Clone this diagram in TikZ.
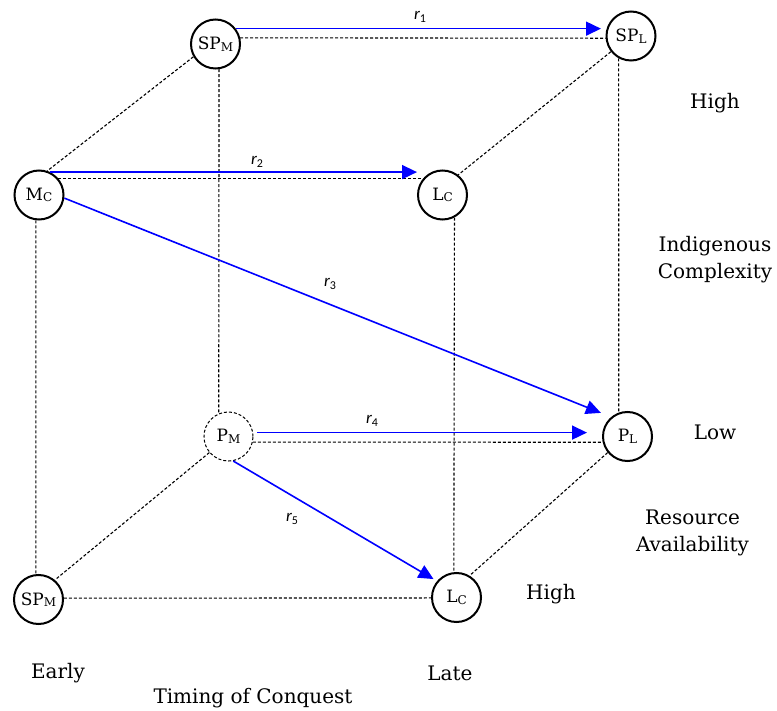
\documentclass[tikz,border=0pt]{standalone}
\usepackage{fontspec}
\setmainfont{DejaVu Serif}
\newfontfamily\labfont{Carlito}
\usetikzlibrary{arrows.meta}
\newcommand{\sbm}[1]{\raisebox{-1.5pt}{\fontsize{12}{12}\selectfont #1}}
\newcommand{\rl}[1]{{\labfont\fontsize{17}{17}\selectfont\itshape r\raisebox{-3pt}{\upshape\fontsize{12}{12}\selectfont #1}}}
\begin{document}
\begin{tikzpicture}[x=1pt,y=-1pt,
  vtx/.style={circle,draw,line width=2pt,minimum size=49pt,inner sep=0pt,font=\fontsize{17}{17}\selectfont},
  dvtx/.style={circle,draw,line width=1pt,dash pattern=on 3pt off 2pt,minimum size=49pt,inner sep=0pt,font=\fontsize{17}{17}\selectfont},
  cubeedge/.style={draw=black,line width=1.1pt,dash pattern=on 3pt off 2pt},
  rel/.style={draw=blue,line width=1.6pt,-{Triangle[length=15pt,width=14pt,fill=blue]}},
  lab/.style={font=\fontsize{20}{27}\selectfont,align=center},
]
\useasboundingbox (0,0) rectangle (777,711);

\node[vtx] (spmt) at (215.5,44) {SP\sbm{M}};
\node[vtx] (spl) at (631,36) {SP\sbm{L}};
\node[vtx] (mc) at (39,195) {M\sbm{C}};
\node[vtx] (lct) at (442.5,195) {L\sbm{C}};
\node[dvtx] (pm) at (228.5,436.5) {P\sbm{M}};
\node[vtx] (pl) at (627.5,436.5) {P\sbm{L}};
\node[vtx] (spmb) at (38.5,599.5) {SP\sbm{M}};
\node[vtx] (lcb) at (456.5,597.5) {L\sbm{C}};

% cube edges
\draw[cubeedge] (spmt.14) -- (spl.185);
\draw[cubeedge] (spmt.-82) -- (pm.113);
\draw[cubeedge] (spmt.210) -- (mc.71);
\draw[cubeedge] (spl.218) -- (lct.52);
\draw[cubeedge] (spl.241) -- (pl.110);
\draw[cubeedge] (mc.41) -- (lct.139);
\draw[cubeedge] (mc.263) -- (spmb.96);
\draw[cubeedge] (lct.-62) -- (lcb.96);
\draw[cubeedge] (pm.-13) -- (pl.193);
\draw[cubeedge] (pm.220) -- (spmb.50);
\draw[cubeedge] (pl.219) -- (lcb.59);
\draw[cubeedge] (spmb.3) -- (lcb.181);

% relations
\draw[rel] (spmt.37.4) -- ([xshift=-4.5pt]spmt.37.4 -| spl.west);
\draw[rel] (mc.64) -- (mc.64 -| lct.west);
\draw[rel,shorten >=11pt] (mc.-7) -- (pl.130);
\draw[rel] ([xshift=4pt]pm.9) -- ([xshift=-15pt]pm.9 -| pl.west);
\draw[rel,shorten >=4pt] (pm.-79) -- (lcb.140);

\node (lr1) at (420,17) {\rl{1}};
\node (lr2) at (257,162) {\rl{2}};
\node (lr3) at (330,284) {\rl{3}};
\node (lr4) at (372,421) {\rl{4}};
\node (lr5) at (292,519) {\rl{5}};

\node[lab] (hi1) at (715,103) {High};
\node[lab] (ic) at (715,260) {Indigenous\\Complexity};
\node[lab] (low) at (715,432) {Low};
\node[lab] (ra) at (692.5,533) {Resource\\Availability};
\node[lab] (hi2) at (551,594) {High};
\node[lab] (early) at (58,673) {Early};
\node[lab] (late) at (450,673) {Late};
\node[lab] (toc) at (253,698) {Timing of Conquest};
\end{tikzpicture}
\end{document}
